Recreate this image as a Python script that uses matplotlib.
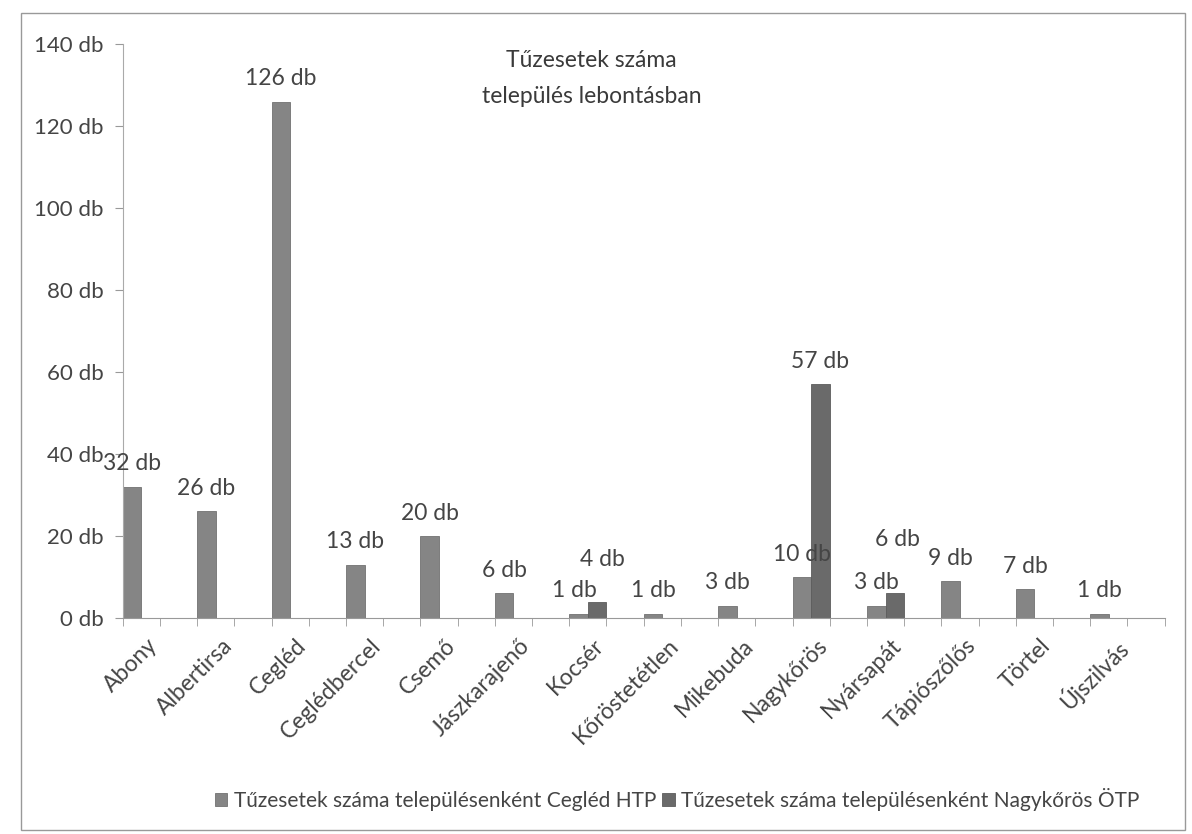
import numpy as np
import matplotlib
matplotlib.use("Agg")
import matplotlib.pyplot as plt

plt.rcParams['font.family'] = ['Lato', 'DejaVu Sans']

telepulesek = ["Abony", "Albertirsa", "Cegléd", "Ceglédbercel", "Csemő", "Jászkarajenő",
               "Kocsér", "Kőröstetétlen", "Mikebuda", "Nagykőrös", "Nyársapát",
               "Tápiószőlős", "Törtel", "Újszilvás"]
cegled_htp = [32, 26, 126, 13, 20, 6, 1, 1, 3, 10, 3, 9, 7, 1]
nagykoros_otp = [0, 0, 0, 0, 0, 0, 4, 0, 0, 57, 6, 0, 0, 0]
y_ticks = [0, 20, 40, 60, 80, 100, 120, 140]

txt = '#454545'
fs = 16
fig = plt.figure(figsize=(11.92, 8.34), dpi=100)
ax = fig.add_axes([0.103, 0.259, 0.874, 0.688])

# every settlement sits in every second slot (blank rows between them)
idx = np.arange(len(telepulesek))
x = idx * 2 + 0.5
w = 0.5
b1 = ax.bar(x - w / 2, cegled_htp, w, color='#858585', edgecolor='#727272', linewidth=0.6,
            label='Tűzesetek száma településenként Cegléd HTP')
b2 = ax.bar(x + w / 2, nagykoros_otp, w, color='#6a6a6a', edgecolor='#5c5c5c', linewidth=0.6,
            label='Tűzesetek száma településenként Nagykőrös ÖTP')

# labels that were moved by hand in the original
nudge = {("otp", "Kocsér"): (4, 14), ("otp", "Nyársapát"): (2, 22), ("htp", "Kocsér"): (-3, 0)}
for key, bars, vals in (("htp", b1, cegled_htp), ("otp", b2, nagykoros_otp)):
    for name, r, v in zip(telepulesek, bars, vals):
        if v > 0:
            dx, dy = nudge.get((key, name), (0, 0))
            ax.annotate(f"{v} db", (r.get_x() + r.get_width() / 2, v), xytext=(dx, 9 + dy),
                        textcoords='offset points', ha='center', va='bottom',
                        fontsize=16.5, color=txt)

ax.set_xlim(0, len(telepulesek) * 2)
ax.set_ylim(0, 140)
ax.set_yticks(y_ticks, [f"{t} db" for t in y_ticks], fontsize=fs, color=txt)
ax.set_xticks(x + 0.15, telepulesek, rotation=45, ha='right', rotation_mode='anchor',
              fontsize=16.5, color=txt)
ax.set_xticks(np.arange(0, len(telepulesek) * 2 + 1), minor=True)
ax.tick_params(axis='x', which='major', length=0, pad=12)
ax.tick_params(axis='x', which='minor', length=6, color='#999999')
ax.tick_params(axis='y', length=6, color='#999999', pad=8)

for s in ['top', 'right']:
    ax.spines[s].set_visible(False)
ax.spines['left'].set_color('#aaaaaa')
ax.spines['bottom'].set_color('#999999')

ax.text(0.45, 0.99, "Tűzesetek száma\ntelepülés lebontásban", transform=ax.transAxes,
        ha='center', va='top', fontsize=16.5, color='#3a3a3a', linespacing=1.9)

fig.legend(loc='lower center', bbox_to_anchor=(0.568, 0.005), ncol=2, frameon=False,
           fontsize=15, handlelength=0.6, handleheight=0.6, handletextpad=0.3,
           columnspacing=0.3, labelcolor=txt)

fig.patches.append(plt.Rectangle((0.018, 0.005), 0.976, 0.98, transform=fig.transFigure,
                                 fill=False, edgecolor='#999999', linewidth=1))

fig.savefig('out.png', dpi=100)
